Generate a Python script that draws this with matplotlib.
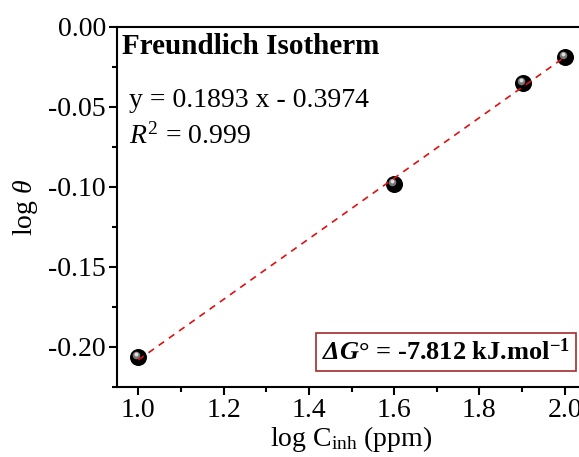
import matplotlib
matplotlib.use("Agg")
import matplotlib.pyplot as plt
import matplotlib.transforms as mtransforms
import numpy as np

# datos
log_c = [1.0, 1.6, 1.903, 2.0]
log_theta = [-0.206, -0.098, -0.035, -0.019]
pendiente = 0.1893
intercepto = -0.3974
r2 = 0.999
delta_g = -7.812

x_ticks = [1.0, 1.2, 1.4, 1.6, 1.8, 2.0]
y_ticks = [-0.20, -0.15, -0.10, -0.05, 0.00]

plt.rcParams['font.family'] = ['Liberation Serif', 'DejaVu Serif']
plt.rcParams['mathtext.fontset'] = 'custom'
plt.rcParams['mathtext.rm'] = 'Liberation Serif'
plt.rcParams['mathtext.it'] = 'Liberation Serif:italic'
plt.rcParams['mathtext.bf'] = 'Liberation Serif:bold'
plt.rcParams['mathtext.bfit'] = 'Liberation Serif:italic:bold'

fig = plt.figure(figsize=(5.79, 4.57), dpi=100)
ax = fig.add_axes([117 / 579, 70 / 457, 469 / 579, 360 / 457])

# recta de ajuste
xf = np.array([log_c[0], log_c[-1]])
ax.plot(xf, pendiente * xf + intercepto, color='#dd1111', lw=1.2,
        dashes=(4, 3.5), zorder=4)

# esferas negras con brillo
ax.scatter(log_c, log_theta, s=150, color='black', zorder=3, linewidths=0)
brillo = ax.transData + mtransforms.ScaledTranslation(-2 / 100, 2 / 100, fig.dpi_scale_trans)
ax.scatter(log_c, log_theta, s=30, color='#777777', zorder=3, linewidths=0,
           transform=brillo)
brillo2 = ax.transData + mtransforms.ScaledTranslation(-2 / 100, 3 / 100, fig.dpi_scale_trans)
ax.scatter(log_c, log_theta, s=8, color='#dddddd', zorder=3, linewidths=0,
           transform=brillo2)

ax.set_xlim(0.95, 2.05)
ax.set_ylim(-0.225, 0.0)
ax.set_xticks(x_ticks)
ax.set_yticks(y_ticks)
ax.set_xticks(np.arange(1.1, 2.0, 0.2), minor=True)
ax.set_yticks([-0.225, -0.175, -0.125, -0.075, -0.025], minor=True)
ax.set_xticklabels([f'{v:.1f}' for v in x_ticks])
ax.set_yticklabels([f'{v:.2f}' for v in y_ticks])

ax.tick_params(which='major', direction='out', length=6, width=1.5,
               labelsize=20, pad=2)
ax.tick_params(which='minor', direction='out', length=3.5, width=1.5)
for s in ax.spines.values():
    s.set_linewidth(1.5)

ax.set_xlabel(r'log C$_{\mathregular{inh}}$ (ppm)', fontsize=20, labelpad=1)
ax.set_ylabel(r'log $\theta$', fontsize=20, labelpad=6)

ax.text(0.011, 0.945, 'Freundlich Isotherm', transform=ax.transAxes,
        fontsize=21, fontweight='bold', va='center', ha='left')
ax.text(0.026, 0.795, f'y = {pendiente:.4f} x - {abs(intercepto):.4f}',
        transform=ax.transAxes, fontsize=20, va='center', ha='left')
ax.text(0.026, 0.695, r'$R^{\mathregular{2}}$' + f' = {r2:.3f}',
        transform=ax.transAxes, fontsize=20, va='center', ha='left')

ax.text(0.966, 0.097,
        r'$\mathbfit{\Delta G}$' + f'° = {delta_g:.3f} kJ.mol' + r'$^{\mathbf{-1}}$',
        transform=ax.transAxes, fontsize=19, fontweight='bold',
        va='center', ha='right',
        bbox=dict(boxstyle='square,pad=0.22', facecolor='white',
                  edgecolor='#a52a2a', linewidth=1.2))

fig.savefig('out.png', dpi=100)
